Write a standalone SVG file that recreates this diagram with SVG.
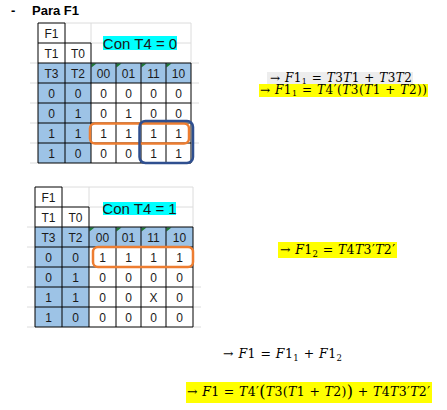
<svg xmlns="http://www.w3.org/2000/svg" width="447" height="410" viewBox="0 0 447 410">
<style>
.bg{fill:#ffffff}
.blue{fill:#9DC3E6}
.grid{fill:none;stroke:#000;stroke-width:1}
.faint{fill:none;stroke:#DCDCDC;stroke-width:1}
.cell{font-family:"Liberation Sans","Arial",sans-serif;font-size:12px;fill:#1a1a1a;text-anchor:middle}
.con{font-family:"Liberation Sans","Arial",sans-serif;font-size:15px;fill:#1a1a1a;text-anchor:middle}
.cyan{fill:#00FFFF}
.tri{fill:#1E7B34}
.org{fill:none;stroke:#ED7D31;stroke-width:2.5}
.nav{fill:none;stroke:#2F4F8F;stroke-width:2.5}
.title{font-family:"Liberation Sans","Arial",sans-serif;font-size:13px;font-weight:bold;fill:#000}
.m{font-family:"DejaVu Serif","Liberation Serif",serif;font-size:12px;fill:#000}
.m2{font-family:"DejaVu Serif","Liberation Serif",serif;font-size:12.5px;fill:#000}
.i{font-style:italic}
.gray{fill:#EDEDED}
.yel{fill:#FFFF00}
</style>
<rect class="bg" x="0" y="0" width="447" height="410"/>

<g id="title">
<text class="title" x="11" y="15">-</text>
<text class="title" x="32" y="15">Para F1</text>
</g>

<g id="table1">
<path class="faint" d="M65 23H191M91 43H191M91 23V43M191 23V63M30 63H38M30 83H38M30 103H38M30 123H38M30 143H38M30 163H38M191 63H199M191 83H199M191 103H199M191 143H199"/>
<rect class="blue" x="38" y="63" width="153" height="20"/>
<rect class="blue" x="38" y="83" width="53" height="80"/>
<path class="tri" d="M91.5 63.5h5l-5 4z M116.5 63.5h5l-5 4z M141.5 63.5h5l-5 4z M166.5 63.5h5l-5 4z"/>
<path class="grid" d="M38 23H65M38 43H91M38 63H191M38 83H191M38 103H191M38 123H191M38 143H191M38 163H191M38 23V163M65 23V163M91 43V163M116 63V163M141 63V163M166 63V163M191 63V163"/>
<rect class="cyan" x="103" y="36" width="74" height="14"/>
<text class="con" x="140" y="48.5">Con T4 = 0</text>
<g class="cell">
<text x="51.5" y="37.5">F1</text>
<text x="51.5" y="57.5">T1</text><text x="78" y="57.5">T0</text>
<text x="51.5" y="77.5">T3</text><text x="78" y="77.5">T2</text><text x="103.5" y="77.5">00</text><text x="128.5" y="77.5">01</text><text x="153.5" y="77.5">11</text><text x="178.5" y="77.5">10</text>
<text x="51.5" y="97.5">0</text><text x="78" y="97.5">0</text><text x="103.5" y="97.5">0</text><text x="128.5" y="97.5">0</text><text x="153.5" y="97.5">0</text><text x="178.5" y="97.5">0</text>
<text x="51.5" y="117.5">0</text><text x="78" y="117.5">1</text><text x="103.5" y="117.5">0</text><text x="128.5" y="117.5">1</text><text x="153.5" y="117.5">0</text><text x="178.5" y="117.5">0</text>
<text x="51.5" y="137.5">1</text><text x="78" y="137.5">1</text><text x="103.5" y="137.5">1</text><text x="128.5" y="137.5">1</text><text x="153.5" y="137.5">1</text><text x="178.5" y="137.5">1</text>
<text x="51.5" y="157.5">1</text><text x="78" y="157.5">0</text><text x="103.5" y="157.5">0</text><text x="128.5" y="157.5">0</text><text x="153.5" y="157.5">1</text><text x="178.5" y="157.5">1</text>
</g>
<rect class="org" x="90" y="123.5" width="99" height="20" rx="5"/>
<rect class="nav" x="139.5" y="121" width="53.5" height="42" rx="6"/>
</g>

<g id="table2">
<path class="faint" d="M62 187H193M89 207H193M89 187V207M193 187V227M27 227H35M27 247H35M27 267H35M27 287H35M27 307H35M27 327H35M193 287H201M193 307H201M193 327H201"/>
<rect class="blue" x="35" y="227" width="158" height="20"/>
<rect class="blue" x="35" y="247" width="54" height="80"/>
<path class="tri" d="M89.5 227.5h5l-5 4z M116.5 227.5h5l-5 4z M141.5 227.5h5l-5 4z M166.5 227.5h5l-5 4z"/>
<path class="grid" d="M35 187H62M35 207H89M35 227H193M35 247H193M35 267H193M35 287H193M35 307H193M35 327H193M35 187V327M62 187V327M89 207V327M116 227V327M141 227V327M166 227V327M193 227V327"/>
<rect class="cyan" x="103" y="202" width="73" height="13"/>
<text class="con" x="139.5" y="213.5">Con T4 = 1</text>
<g class="cell">
<text x="48.5" y="201.5">F1</text>
<text x="48.5" y="221.5">T1</text><text x="75.5" y="221.5">T0</text>
<text x="48.5" y="241.5">T3</text><text x="75.5" y="241.5">T2</text><text x="102.5" y="241.5">00</text><text x="128.5" y="241.5">01</text><text x="153.5" y="241.5">11</text><text x="179.5" y="241.5">10</text>
<text x="48.5" y="261.5">0</text><text x="75.5" y="261.5">0</text><text x="102.5" y="261.5">1</text><text x="128.5" y="261.5">1</text><text x="153.5" y="261.5">1</text><text x="179.5" y="261.5">1</text>
<text x="48.5" y="281.5">0</text><text x="75.5" y="281.5">1</text><text x="102.5" y="281.5">0</text><text x="128.5" y="281.5">0</text><text x="153.5" y="281.5">0</text><text x="179.5" y="281.5">0</text>
<text x="48.5" y="301.5">1</text><text x="75.5" y="301.5">1</text><text x="102.5" y="301.5">0</text><text x="128.5" y="301.5">0</text><text x="153.5" y="301.5">X</text><text x="179.5" y="301.5">0</text>
<text x="48.5" y="321.5">1</text><text x="75.5" y="321.5">0</text><text x="102.5" y="321.5">0</text><text x="128.5" y="321.5">0</text><text x="153.5" y="321.5">0</text><text x="179.5" y="321.5">0</text>
</g>
<rect class="org" x="93" y="247" width="100" height="20" rx="5"/>
</g>

<g id="formula-f1-1a">
<rect class="gray" x="267" y="72" width="146" height="12"/>
<text class="m" x="270" y="81.5" textLength="142" lengthAdjust="spacing">→ <tspan class="i">F</tspan>1<tspan font-size="8" dy="2.5">1</tspan><tspan dy="-2.5"> = </tspan><tspan class="i">T</tspan>3<tspan class="i">T</tspan>1 + <tspan class="i">T</tspan>3<tspan class="i">T</tspan>2</text>
</g>

<g id="formula-f1-1b">
<rect class="yel" x="259" y="84" width="169" height="13"/>
<text class="m" x="260" y="93.5" textLength="167" lengthAdjust="spacing">→ <tspan class="i">F</tspan>1<tspan font-size="8" dy="2.5">1</tspan><tspan dy="-2.5"> = </tspan><tspan class="i">T</tspan>4′(<tspan class="i">T</tspan>3(<tspan class="i">T</tspan>1 + <tspan class="i">T</tspan>2))</text>
</g>

<g id="formula-f1-2">
<rect class="yel" x="278" y="242" width="119" height="16"/>
<text class="m2" x="280" y="254" textLength="115" lengthAdjust="spacing">→ <tspan class="i">F</tspan>1<tspan font-size="8.5" dy="2.5">2</tspan><tspan dy="-2.5"> = </tspan><tspan class="i">T</tspan>4<tspan class="i">T</tspan>3′<tspan class="i">T</tspan>2′</text>
</g>

<g id="formula-f1-sum">
<text class="m2" x="223" y="358" textLength="119" lengthAdjust="spacing">→ <tspan class="i">F</tspan>1 = <tspan class="i">F</tspan>1<tspan font-size="8.5" dy="2.5">1</tspan><tspan dy="-2.5"> + </tspan><tspan class="i">F</tspan>1<tspan font-size="8.5" dy="2.5">2</tspan></text>
</g>

<g id="formula-f1-final">
<rect class="yel" x="186" y="382" width="246" height="21"/>
<text class="m2" x="187" y="396" textLength="243" lengthAdjust="spacing">→ <tspan class="i">F</tspan>1 = <tspan class="i">T</tspan>4′<tspan font-size="16" dy="0.8">(</tspan><tspan dy="-0.8" class="i">T</tspan>3(<tspan class="i">T</tspan>1 + <tspan class="i">T</tspan>2)<tspan font-size="16" dy="0.8">)</tspan><tspan dy="-0.8"> + </tspan><tspan class="i">T</tspan>4<tspan class="i">T</tspan>3′<tspan class="i">T</tspan>2′</text>
</g>
</svg>
